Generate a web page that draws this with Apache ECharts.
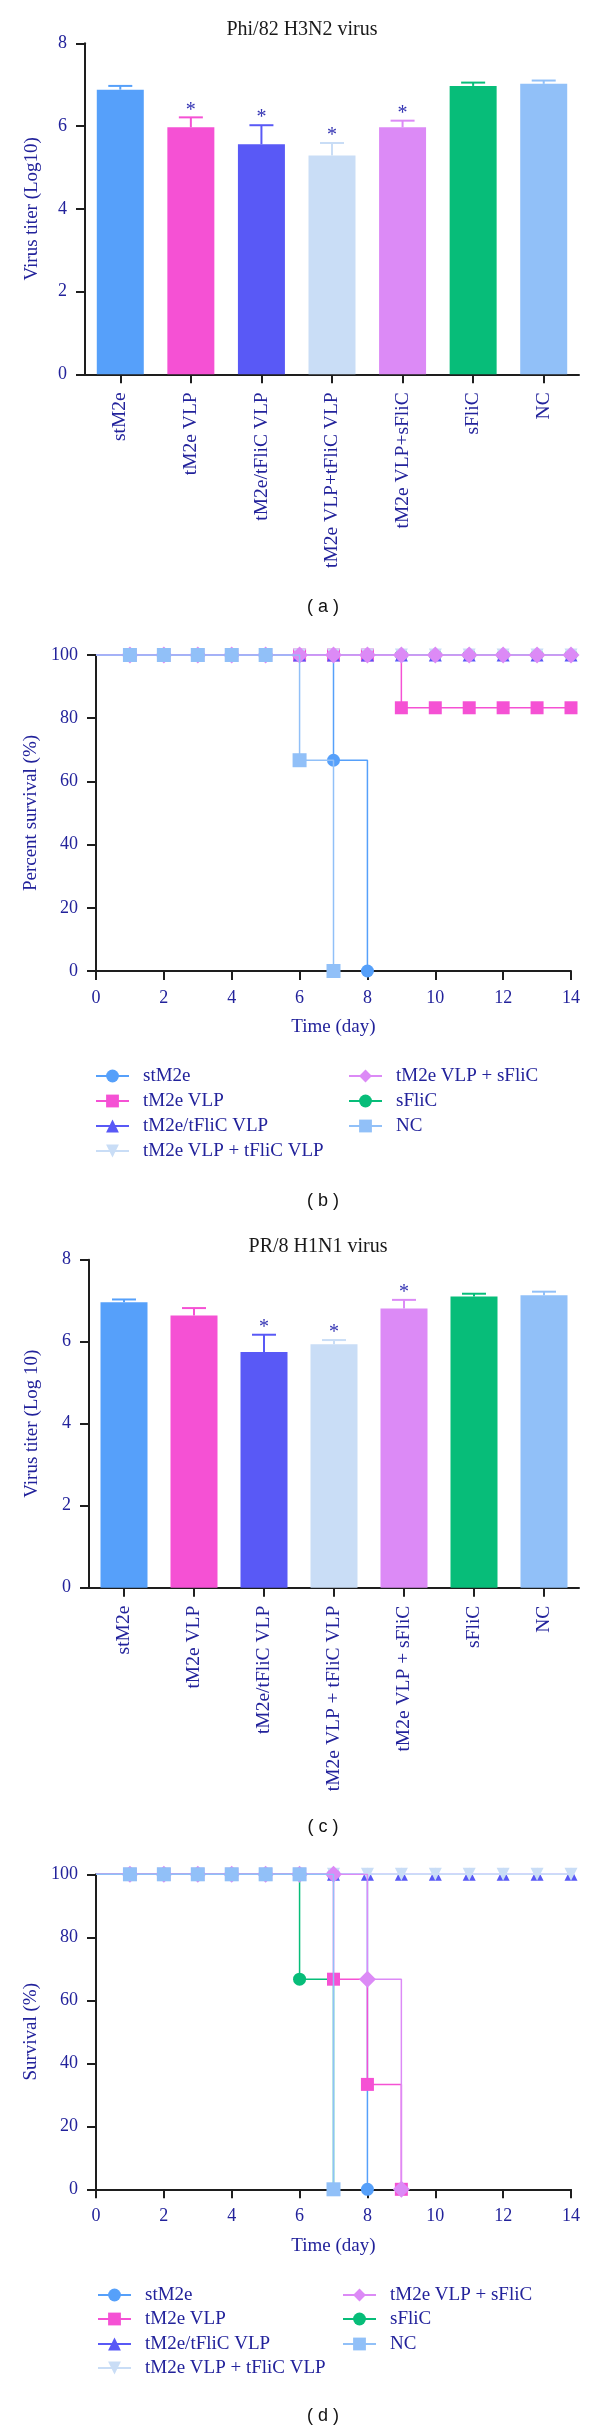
<!DOCTYPE html>
<html><head><meta charset="utf-8">
<script src="https://cdn.jsdelivr.net/npm/echarts@6/dist/echarts.min.js"></script>
<style>html,body{margin:0;padding:0;background:#fff}#c{width:600px;height:2432px}</style>
</head><body><div id="c"></div>
<script>
// ---------- data ----------
const groupsA = ['stM2e','tM2e VLP','tM2e/tFliC VLP','tM2e VLP+tFliC VLP','tM2e VLP+sFliC','sFliC','NC'];
const groupsC = ['stM2e','tM2e VLP','tM2e/tFliC VLP','tM2e VLP + tFliC VLP','tM2e VLP + sFliC','sFliC','NC'];
const legendNames = ['stM2e','tM2e VLP','tM2e/tFliC VLP','tM2e VLP + tFliC VLP','tM2e VLP + sFliC','sFliC','NC'];

const titerA = [6.88, 5.97, 5.56, 5.29, 5.97, 6.97, 7.02];
const errA   = [0.09, 0.24, 0.46, 0.30, 0.16, 0.08, 0.08];
const sigA   = [0, 1, 1, 1, 1, 0, 0];

const titerC = [6.96, 6.64, 5.75, 5.94, 6.81, 7.10, 7.13];
const errC   = [0.07, 0.18, 0.42, 0.10, 0.21, 0.07, 0.09];
const sigC   = [0, 0, 1, 1, 1, 0, 0];

const days = [0,1,2,3,4,5,6,7,8,9,10,11,12,13,14];
const yTicksTiter = [0, 8, 2];     // min, max, interval
const yTicksSurv  = [0, 100, 20];
const xTicksDay   = [0, 14, 2];

// Phi/82 H3N2 survival (b)
const survB_stM2e   = [100,100,100,100,100,100,100,66.7,0];
const survB_tVLP    = [100,100,100,100,100,100,100,100,100,83.3,83.3,83.3,83.3,83.3,83.3];
const survB_tFliC   = [100,100,100,100,100,100,100,100,100,100,100,100,100,100,100];
const survB_VLPtF   = [100,100,100,100,100,100,100,100,100,100,100,100,100,100,100];
const survB_VLPsF   = [100,100,100,100,100,100,100,100,100,100,100,100,100,100,100];
const survB_sFliC   = [100,100,100,100,100,100,100,100,100,100,100,100,100,100,100];
const survB_NC      = [100,100,100,100,100,100,66.7,0];

// PR/8 H1N1 survival (d)
const survD_stM2e   = [100,100,100,100,100,100,100,100,0];
const survD_tVLP    = [100,100,100,100,100,100,100,66.7,33.3,0];
const survD_tFliC   = [100,100,100,100,100,100,100,100,100,100,100,100,100,100,100];
const survD_VLPtF   = [100,100,100,100,100,100,100,100,100,100,100,100,100,100,100];
const survD_VLPsF   = [100,100,100,100,100,100,100,100,66.7,0];
const survD_sFliC   = [100,100,100,100,100,100,66.7,0];
const survD_NC      = [100,100,100,100,100,100,100,0];

// ---------- styles ----------
const colors = ['#56a0fa','#f551d4','#5959f6','#c9ddf6','#dc8af6','#07bd79','#91c0f8'];
const symbols = ['circle','rect','triangle','triangle','diamond','circle','rect'];
const symRot  = [0,0,0,180,0,0,0];
const symSize = [13,13,13,13,17,13,14];
const zOrder  = [3,4,5,6,7,2,8];
const SERIF = '"Liberation Serif","Times New Roman",serif';
const SANS = '"Liberation Sans",Arial,sans-serif';
const NAVY = '#22229b';
const AX = '#1e1e1e';

const chart = echarts.init(document.getElementById('c'), null, {width:600, height:2432});

function axisLineCfg(){ return {show:true, lineStyle:{color:AX, width:2}}; }
function tickCfg(extra){ return Object.assign({show:true, length:9, lineStyle:{color:AX, width:2}}, extra||{}); }
function numLabel(margin){ return {color:NAVY, fontSize:18, fontFamily:SERIF, margin:margin}; }

function catX(grid, cats){
  return {type:'category', gridIndex:grid, data:cats, axisLine:axisLineCfg(), axisTick:tickCfg({alignWithLabel:true}),
    axisLabel:{rotate:90, interval:0, margin:18, color:NAVY, fontSize:19.5, fontFamily:SERIF}, splitLine:{show:false}};
}
function valY(grid, t, name, gap){
  return {type:'value', gridIndex:grid, min:t[0], max:t[1], interval:t[2], axisLine:axisLineCfg(), axisTick:tickCfg(),
    axisLabel:numLabel(18), splitLine:{show:false}, name:name, nameLocation:'middle', nameGap:gap,
    nameTextStyle:{color:NAVY, fontSize:19, fontFamily:SERIF}};
}
function dayX(grid){
  return {type:'value', gridIndex:grid, min:xTicksDay[0], max:xTicksDay[1], interval:xTicksDay[2], axisLine:axisLineCfg(), axisTick:tickCfg(),
    axisLabel:numLabel(18), splitLine:{show:false}, name:'Time (day)', nameLocation:'middle', nameGap:47,
    nameTextStyle:{color:NAVY, fontSize:19, fontFamily:SERIF}};
}

function barSeries(axis, vals){
  return {type:'bar', xAxisIndex:axis, yAxisIndex:axis, barWidth:47,
    data: vals.map((v,i)=>({value:v, itemStyle:{color:colors[i]}}))};
}
function errSeries(axis, vals, errs, sig){
  return {type:'custom', xAxisIndex:axis, yAxisIndex:axis, z:5,
    data: vals.map((v,i)=>[i, v, errs[i], sig[i]]),
    encode:{x:0, y:1},
    renderItem:function(params, api){
      const i = api.value(0), v = api.value(1), e = api.value(2), s = api.value(3);
      const p0 = api.coord([i, v]), p1 = api.coord([i, v + e]);
      const col = colors[i];
      const ch = [
        {type:'line', shape:{x1:p0[0], y1:p0[1], x2:p1[0], y2:p1[1]}, style:{stroke:col, lineWidth:2}},
        {type:'line', shape:{x1:p1[0]-12, y1:p1[1], x2:p1[0]+12, y2:p1[1]}, style:{stroke:col, lineWidth:2}}
      ];
      if (s) ch.push({type:'text', style:{text:'*', x:p1[0], y:p1[1]-7, align:'center', verticalAlign:'middle',
        fill:'#3333b3', font:'20px ' + SERIF}});
      return {type:'group', children:ch};
    }};
}
function survSeries(axis, idx, vals){
  return {type:'line', name:legendNames[idx], xAxisIndex:axis, yAxisIndex:axis, step:'end', z:zOrder[idx],
    symbol:symbols[idx], symbolRotate:symRot[idx], symbolSize:symSize[idx], showAllSymbol:true,
    color:colors[idx], itemStyle:{color:colors[idx]}, lineStyle:{color:colors[idx], width:1.5},
    data: vals.map((v,i)=> i===0 ? {value:[days[i], v], symbol:'none'} : [days[i], v])};
}
function legendItem(idx, x, yc){
  return {left:x, top:yc-9.5, padding:0, itemWidth:33, itemHeight:16, selectedMode:false, data:[legendNames[idx]],
    textStyle:{color:NAVY, fontSize:19, fontFamily:SERIF, padding:[0,0,0,9]}};
}
function title(text, x, yc, sans){
  return {text:text, left:x, top:yc-10, textAlign:'center', padding:0,
    textStyle:{fontSize: sans?18:20, fontWeight:'normal', color: sans?'#111':'#1a1a1a', fontFamily: sans?SANS:SERIF}};
}

const rowsB = [1076,1101,1126,1151];
const rowsD = [2295,2319,2344,2368];
const legends = [];
for (let i=0;i<4;i++) legends.push(legendItem(i, 95, rowsB[i]));
for (let i=4;i<7;i++) legends.push(legendItem(i, 348, rowsB[i-4]));
for (let i=0;i<4;i++) legends.push(legendItem(i, 97, rowsD[i]));
for (let i=4;i<7;i++) legends.push(legendItem(i, 342, rowsD[i-4]));

const survBList = [survB_stM2e, survB_tVLP, survB_tFliC, survB_VLPtF, survB_VLPsF, survB_sFliC, survB_NC];
const survDList = [survD_stM2e, survD_tVLP, survD_tFliC, survD_VLPtF, survD_VLPsF, survD_sFliC, survD_NC];

const series = [barSeries(0, titerA), errSeries(0, titerA, errA, sigA),
                barSeries(2, titerC), errSeries(2, titerC, errC, sigC)];
survBList.forEach((a,i)=>series.push(survSeries(1, i, a)));
survDList.forEach((a,i)=>series.push(survSeries(3, i, a)));

chart.setOption({
  animation:false,
  backgroundColor:'#fff',
  title:[
    title('Phi/82 H3N2 virus', 302, 30),
    title('( a )', 323, 608, true),
    title('( b )', 323, 1202, true),
    title('PR/8 H1N1 virus', 318, 1247),
    title('( c )', 323, 1828, true),
    title('( d )', 323, 2417, true)
  ],
  legend: legends,
  grid:[
    {left:85, top:43.3, width:494, height:331, outerBoundsMode:'none'},
    {left:96, top:655, width:475, height:316, outerBoundsMode:'none'},
    {left:89, top:1259.7, width:490, height:328, outerBoundsMode:'none'},
    {left:96, top:1874.3, width:475, height:315, outerBoundsMode:'none'}
  ],
  xAxis:[catX(0, groupsA), dayX(1), catX(2, groupsC), dayX(3)],
  yAxis:[valY(0, yTicksTiter, 'Virus titer (Log10)', 43.5), valY(1, yTicksSurv, 'Percent survival (%)', 54.5),
         valY(2, yTicksTiter, 'Virus titer (Log 10)', 47.5), valY(3, yTicksSurv, 'Survival (%)', 54.5)],
  series: series
});
</script></body></html>
